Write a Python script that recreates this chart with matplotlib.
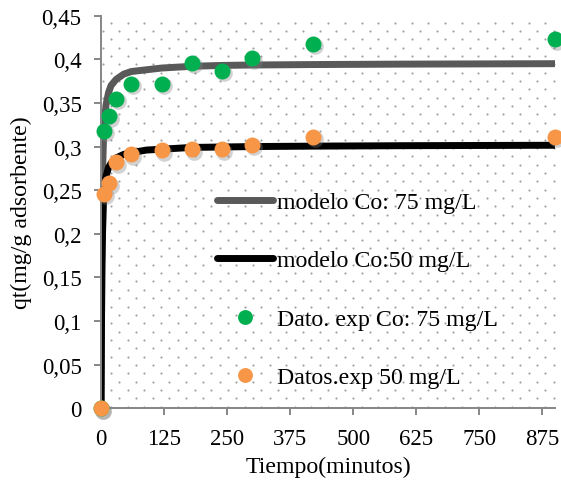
import numpy as np
import matplotlib
matplotlib.use("Agg")
import matplotlib.pyplot as plt
from matplotlib.ticker import FuncFormatter
from matplotlib.transforms import offset_copy

tExp = [0, 5, 15, 30, 60, 120, 180, 240, 300, 420, 900]
q75 = [0, 0.318, 0.335, 0.355, 0.372, 0.372, 0.396, 0.387, 0.401, 0.418, 0.423]
q50 = [0, 0.246, 0.258, 0.282, 0.291, 0.296, 0.297, 0.297, 0.302, 0.311, 0.311]

# model curves
tMod = [0, 1, 2, 3, 5, 7, 10, 15, 20, 30, 45, 60, 90, 120, 180, 240, 300, 420, 600, 900]
mod75 = [0, 0.16, 0.23, 0.27, 0.31, 0.330, 0.348, 0.362, 0.370, 0.377, 0.383, 0.386,
         0.388, 0.390, 0.392, 0.393, 0.3935, 0.394, 0.3945, 0.395]
mod50 = [0, 0.10, 0.16, 0.20, 0.24, 0.255, 0.266, 0.276, 0.281, 0.287, 0.291, 0.293,
         0.296, 0.297, 0.299, 0.2995, 0.300, 0.3005, 0.301, 0.3015]

labels = ["modelo Co: 75 mg/L", "modelo Co:50 mg/L",
          "Dato. exp Co: 75 mg/L", "Datos.exp 50 mg/L"]

plt.rcParams["font.family"] = ["Liberation Serif", "DejaVu Serif"]
FS = 16.5       # tick labels
FST = 17.2      # axis titles
FSL = 17.2      # legend

fig = plt.figure(figsize=(5.61, 4.89), dpi=100)
ax = fig.add_axes([101/561, 1-409.3/489, 454/561, 392.6/489])

    # dotted pattern fill of the plot area
W, H = 454.0, 392.6
rows = np.arange(0, H, 8.35)
for i, yp in enumerate(rows):
    x0 = 10.0 if i % 2 == 0 else 1.6
    xs = np.arange(x0, W, 16.7)
    ax.scatter(xs/W, np.full(len(xs), (yp + 1.6)/H), s=2.4, c="#a0a0a0",
               linewidths=0, transform=ax.transAxes, zorder=0.5)

ax.plot(tMod, mod75, color="#595959", lw=5, solid_capstyle="round",
        solid_joinstyle="round", label=labels[0], zorder=2)
ax.plot(tMod, mod50, color="#000000", lw=5, solid_capstyle="round",
        solid_joinstyle="round", label=labels[1], zorder=2)

    # soft shadows under the markers
shTr = offset_copy(ax.transData, fig=fig, x=1.5, y=-1.8, units="points")
for q in (q75, q50):
    ax.plot(tExp, q, "o", ms=12, color="#7f7f7f", alpha=0.35, mec="none",
            transform=shTr, clip_on=False, zorder=3)

ax.plot(tExp, q75, "o", ms=11.5, color="#00B050", mec="none", ls="none",
        label=labels[2], clip_on=False, zorder=4)
ax.plot(tExp, q50, "o", ms=11.5, color="#F79646", mec="none", ls="none",
        label=labels[3], clip_on=False, zorder=4)

ax.set_xlim(0, 900)
ax.set_ylim(0, 0.45)
ax.set_xticks(np.arange(0, 876, 125))
ax.set_yticks(np.arange(0, 0.451, 0.05))
ax.yaxis.set_major_formatter(FuncFormatter(lambda v, p: ("%g" % round(v, 2)).replace(".", ",")))

for s in ("top", "right"):
    ax.spines[s].set_visible(False)
for s in ("left", "bottom"):
    ax.spines[s].set_color("#868686")
    ax.spines[s].set_linewidth(1.4)
ax.tick_params(axis="both", colors="#868686", labelcolor="black", labelsize=FS,
               length=5, width=1.4, pad=9)
ax.set_facecolor("white")

ax.set_xlabel("Tiempo(minutos)", fontsize=FST, labelpad=5)
ax.set_ylabel("qt(mg/g adsorbente)", fontsize=FST, labelpad=7)

ax.legend(loc="upper left", bbox_to_anchor=(0.2555, 0.553), frameon=False,
          fontsize=FSL, handlelength=2.34, handletextpad=0.17, labelspacing=1.54,
          borderpad=0, borderaxespad=0, markerscale=0.93)

fig.savefig("out.png", dpi=100)
